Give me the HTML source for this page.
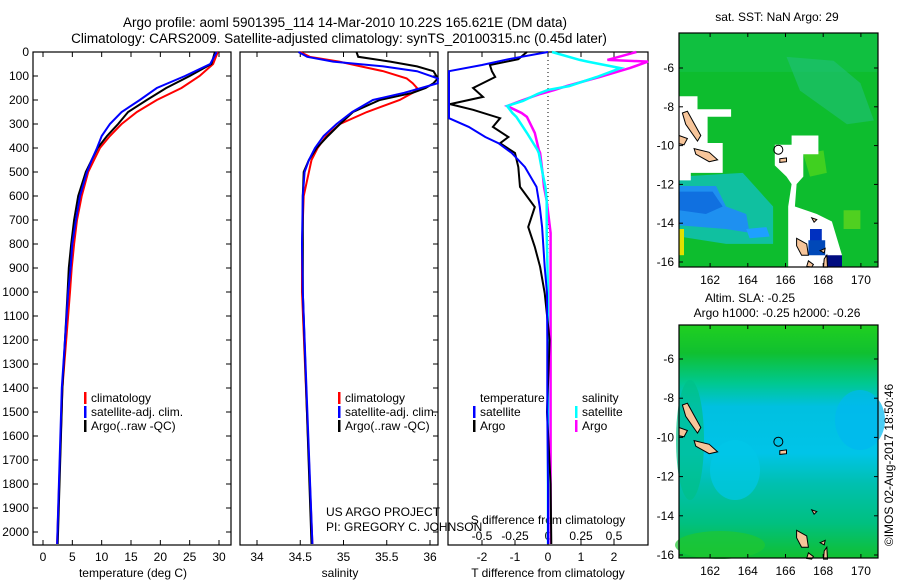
<!DOCTYPE html>
<html><head><meta charset="utf-8"><style>
html,body{margin:0;padding:0;background:#fff;overflow:hidden}
svg{display:block;font-family:"Liberation Sans",sans-serif}
</style></head><body>
<svg id="fig" width="900" height="580" viewBox="0 0 900 580" xmlns="http://www.w3.org/2000/svg">
<rect width="900" height="580" fill="#fff"/>
<g font-size="13.5" text-anchor="middle" fill="#000">
<text x="345" y="27">Argo profile: aoml 5901395_114 14-Mar-2010 10.22S 165.621E (DM data)</text>
<text x="339" y="43">Climatology: CARS2009. Satellite-adjusted climatology: synTS_20100315.nc (0.45d later)</text>
</g>
<g id="p1"></g>
<g id="p2"></g>
<g id="p3"></g>
<g id="m1"></g>
<g id="m2"></g>
<text x="0" y="0" font-size="12" text-anchor="middle" transform="translate(893,465) rotate(-90)">©IMOS 02-Aug-2017 18:50:46</text>
</svg>
<script>
// ---------- data ----------
const presT = [0,50,100,150,200,250,300,350,400,450,500,600,700,800,900,1000,1400,2050];
const tempClim = [29.8,29.0,26.7,23.6,19.4,16.0,13.4,11.4,9.7,8.7,7.7,6.6,5.8,5.3,4.9,4.6,3.3,2.4];
const tempSat  = [29.6,28.5,24.2,19.4,16.5,13.4,11.4,10.0,9.2,8.3,7.5,6.3,5.6,5.0,4.7,4.3,3.2,2.4];
const tempArgo = [29.3,28.7,25.0,21.0,17.7,14.5,12.8,10.9,9.3,8.3,7.3,6.0,5.3,4.8,4.4,4.2,3.3,2.5];
const presS = [0,20,40,60,80,110,130,150,170,200,250,300,350,400,450,500,600,800,1000,2050];
const salClim = [34.50,34.61,34.95,35.20,35.46,35.73,35.80,35.85,35.80,35.65,35.27,34.96,34.80,34.70,34.63,34.60,34.54,34.52,34.52,34.64];
const salSat  = [34.48,34.58,34.88,35.46,35.85,36.09,36.09,35.90,35.70,35.34,35.10,34.92,34.77,34.67,34.60,34.55,34.53,34.52,34.53,34.64];
const salArgo = [35.15,35.17,35.54,35.85,36.04,36.09,36.04,35.95,35.80,35.42,35.11,34.96,34.82,34.69,34.60,34.54,34.53,34.53,34.53,34.63];
const presDT = [0,30,54,80,104,150,187,217,241,276,312,354,380,421,479,562,646,729,812,895,1005,1200,1500,1800,2050];
const dTsat  = [0,-1.2,-2.0,-3.0,-3.0,-3.0,-3.0,-3.0,-3.0,-3.0,-2.4,-1.9,-1.5,-1.1,-0.7,-0.35,-0.25,-0.18,-0.14,-0.1,-0.03,-0.02,-0.02,0,0];
const dTargo = [-0.64,-0.9,-1.76,-1.7,-1.6,-2.27,-1.97,-2.97,-2.27,-1.45,-1.67,-1.2,-1.45,-1.0,-0.9,-0.85,-0.4,-0.6,-0.4,-0.24,-0.1,0.05,-0.03,0.08,0.1];
const presDS = [0,33,40,67,104,142,158,175,204,225,254,270,337,408,421,508,562,620,754,1000,1500,2050];
const dSsat  = [0.03,0.24,0.3,0.55,0.37,0.16,0.0,-0.08,-0.19,-0.31,-0.27,-0.24,-0.16,-0.08,-0.07,-0.04,-0.02,-0.01,-0.01,0,0,0];
const dSargo = [0.67,0.45,0.76,0.62,0.39,0.14,0.05,-0.06,-0.21,-0.31,-0.2,-0.16,-0.1,-0.07,-0.06,-0.04,-0.03,-0.01,0.02,0.02,0.02,0.02];
const presTicks = [0,100,200,300,400,500,600,700,800,900,1000,1100,1200,1300,1400,1500,1600,1700,1800,1900,2000];
const tTicks = [0,5,10,15,20,25,30];
const sTicks = [34,34.5,35,35.5,36];
const sTickLabels = ["34","34.5","35","35.5","36"];
const dTTicks = [-2,-1,0,1,2];
const dSTicks = [-0.5,-0.25,0,0.25,0.5];
const dSTickLabels = ["-0.5","-0.25","0","0.25","0.5"];
const lonTicks = [162,164,166,168,170];
const latTicks = [-6,-8,-10,-12,-14,-16];

// ---------- helpers ----------
const NS="http://www.w3.org/2000/svg";
function mk(tag,attrs,parent){const e=document.createElementNS(NS,tag);for(const k in attrs)e.setAttribute(k,attrs[k]);parent.appendChild(e);return e;}
const yP = p => 52 + 0.24*p;
const PT = 52, PB = 545;
function frame(g,x0,x1){
  const r=mk('rect',{x:x0,y:PT,width:x1-x0,height:PB-PT,fill:'none',stroke:'#000','stroke-width':1.2},g);
  
  
}
function line(g,xs,ps,xf,color,name,w){
  const d=xs.map((v,i)=>(i?'L':'M')+xf(v).toFixed(1)+','+yP(ps[i]).toFixed(1)).join('');
  const e=mk('path',{d:d,fill:'none',stroke:color,'stroke-width':w||2,'stroke-linejoin':'miter'},g);
  
  
}
function txt(g,x,y,s,anchor,size,name){
  const e=mk('text',{x:x,y:y,'text-anchor':anchor||'middle','font-size':size||12},g);
  e.textContent=s;
  
  
  return e;
}
function xticks(g,vals,labels,xf,name){
  vals.forEach((v,i)=>{
    const x=xf(v);
    mk('line',{x1:x,x2:x,y1:PB,y2:PB-5,stroke:'#000'},g);
    mk('line',{x1:x,x2:x,y1:PT,y2:PT+5,stroke:'#000'},g);
    txt(g,x,561,labels[i],'middle',12,name);
  });
}
function rightYTicks(g,x){presTicks.forEach(p=>mk('line',{x1:x-5,x2:x,y1:yP(p),y2:yP(p),stroke:'#000'},g));}
function legend(g,x,y,items){
  items.forEach((it,i)=>{
    const yy=y+i*14;
    if(it[0]) mk('rect',{x:x,y:yy-10,width:2.5,height:12,fill:it[0]},g);
    txt(g,x+7,yy,it[1],'start',12,'legend-entry');
  });
}

// ---------- panel 1: temperature ----------
const g1=document.getElementById('p1');
const xT = t => 43 + 5.867*t;
frame(g1,33,231);
presTicks.forEach(p=>{
  mk('line',{x1:33,x2:38,y1:yP(p),y2:yP(p),stroke:'#000'},g1);
  txt(g1,29,yP(p)+4,String(p),'end',12,'y-tick-label');
});
rightYTicks(g1,231);
xticks(g1,tTicks,tTicks.map(String),xT,'x-tick-label');
txt(g1,133,577,'temperature (deg C)','middle',12,'x-axis-title');
line(g1,tempClim,presT,xT,'#f00','climatology-temperature-line');
line(g1,tempArgo,presT,xT,'#000','argo-temperature-line');
line(g1,tempSat,presT,xT,'#00f','satellite-temperature-line');
legend(g1,84,402,[['#f00','climatology'],['#00f','satellite-adj. clim.'],['#000','Argo(..raw -QC)']]);

// ---------- panel 2: salinity ----------
const g2=document.getElementById('p2');
const xS = s => 257 + 86.5*(s-34);
frame(g2,240,438);
rightYTicks(g2,438);
xticks(g2,sTicks,sTickLabels,xS,'x-tick-label');
txt(g2,340,577,'salinity','middle',12,'x-axis-title');
line(g2,salClim,presS,xS,'#f00','climatology-salinity-line');
line(g2,salArgo,presS,xS,'#000','argo-salinity-line');
line(g2,salSat,presS,xS,'#00f','satellite-salinity-line');
legend(g2,338,402,[['#f00','climatology'],['#00f','satellite-adj. clim.'],['#000','Argo(..raw -QC)']]);
txt(g2,326,516,'US ARGO PROJECT','start',12,'project-credit');
txt(g2,326,531,'PI: GREGORY C. JOHNSON','start',12,'pi-credit');

// ---------- panel 3: differences ----------
const g3=document.getElementById('p3');
const xDT = d => Math.max(448, Math.min(648, 548 + 33*d));
const xDS = d => Math.max(448, Math.min(648, 548 + 132*d));
frame(g3,448,648);
mk('line',{x1:548,x2:548,y1:PT,y2:PB,stroke:'#000','stroke-dasharray':'1,3'},g3);
xticks(g3,dTTicks,dTTicks.map(String),xDT,'t-diff-tick-label');
dSTicks.forEach((v,i)=>txt(g3,xDS(v),540,dSTickLabels[i],'middle',12,'s-diff-tick-label'));
txt(g3,548,577,'T difference from climatology','middle',12,'t-diff-axis-title');
txt(g3,548,524,'S difference from climatology','middle',12,'s-diff-axis-title');
line(g3,dSargo,presDS,xDS,'#f0f','argo-salinity-diff-line',2.5);
line(g3,dSsat,presDS,xDS,'#0ff','satellite-salinity-diff-line',2.5);
line(g3,dTargo,presDT,xDT,'#000','argo-temperature-diff-line');
line(g3,dTsat,presDT,xDT,'#00f','satellite-temperature-diff-line');
legend(g3,473,402,[[null,'temperature'],['#00f','satellite'],['#000','Argo']]);
legend(g3,575,402,[[null,'salinity'],['#0ff','satellite'],['#f0f','Argo']]);

// ---------- maps ----------
const MX0=679, MX1=878;
const lonX = lon => MX0 + (lon-160.35)*18.85;
function mapAxes(g,top,bot,latY,lblY){
  mk('rect',{x:MX0,y:top,width:MX1-MX0,height:bot-top,fill:'none',stroke:'#000','stroke-width':1.2},g);
  lonTicks.forEach(l=>{const x=lonX(l);
    mk('line',{x1:x,x2:x,y1:bot,y2:bot-4,stroke:'#000'},g);
    mk('line',{x1:x,x2:x,y1:top,y2:top+4,stroke:'#000'},g);
    txt(g,x,lblY,String(l),'middle',12,'lon-tick-label');});
  latTicks.forEach(l=>{const y=latY(l);
    mk('line',{x1:MX0,x2:MX0+4,y1:y,y2:y,stroke:'#000'},g);
    mk('line',{x1:MX1-4,x2:MX1,y1:y,y2:y,stroke:'#000'},g);
    txt(g,674,y+4,String(l),'end',12,'lat-tick-label');});
}
function zp(pts,yoff,ybase){return pts.map(p=>(MX0+(p[0]-60)*0.336).toFixed(1)+','+(ybase+(p[1]-yoff)*0.374).toFixed(1)).join(' ');}
function islands(g,yoff,ybase){
  const isl=[[[70,310],[85,305],[125,370],[115,385],[80,340]],[[60,370],[85,378],[75,395],[60,392]],[[105,405],[150,415],[175,435],[150,440],[110,420]],
   [[360,432],[380,430],[380,440],[360,442]],[[410,645],[440,660],[445,690],[425,690],[410,665]],[[445,705],[460,715],[455,722],[440,720]],
   [[480,678],[495,672],[492,684]],[[492,700],[500,690],[502,722],[490,722]],[[455,590],[470,595],[462,602]]];
  isl.forEach(pp=>{const e=mk('polygon',{points:zp(pp,yoff,ybase),fill:'#f7c59a',stroke:'#000','stroke-width':1},g);
    
    });
  const c=mk('circle',{cx:lonX(165.62),cy:ybase+(408-yoff)*0.374,r:4.5,fill:'none',stroke:'#000','stroke-width':1},g);
  
  
}
// map 1
const m1=document.getElementById('m1');
const lat1 = l => 262 - (l+16)*19.4;
txt(m1,777,21,'sat. SST: NaN Argo: 29','middle',12,'sst-map-title');
mk('rect',{x:MX0,y:33,width:MX1-MX0,height:234,fill:'#0dbd2e'},m1);
mk('polygon',{points:zp([[60,96],[652,96],[652,200],[60,200]],96,33),fill:'#10c040'},m1);
mk('polygon',{points:zp([[380,160],[520,170],[600,230],[640,330],[560,340],[420,250]],96,33),fill:'#20c07a',opacity:0.6},m1);
mk('polygon',{points:zp([[60,480],[250,470],[340,560],[340,660],[200,660],[60,640]],96,33),fill:'#10c0a0'},m1);
mk('polygon',{points:zp([[60,505],[170,505],[200,560],[260,580],[270,630],[200,620],[60,610]],96,33),fill:'#1e90f0'},m1);
mk('polygon',{points:zp([[60,520],[160,520],[190,560],[140,580],[60,570]],96,33),fill:'#1070e0'},m1);
mk('polygon',{points:zp([[260,620],[320,615],[330,640],[270,645]],96,33),fill:'#1ea0ff'},m1);
mk('polygon',{points:zp([[60,620],[75,620],[75,690],[60,690]],96,33),fill:'#e0e000'},m1);
mk('polygon',{points:zp([[430,420],[490,410],[500,470],[450,480]],96,33),fill:'#40d020'},m1);
mk('polygon',{points:zp([[550,570],[600,570],[600,620],[550,620]],96,33),fill:'#50d020'},m1);
const wh=[[[60,265],[115,265],[115,300],[215,300],[215,320],[145,320],[145,390],[190,390],[190,470],[95,470],[95,490],[60,490]],
  [[345,395],[395,395],[395,370],[475,370],[475,420],[430,420],[430,480],[410,500],[405,560],[470,580],[515,600],[545,690],[545,722],[385,722],[385,560],[395,500],[380,480],[345,450]]];
wh.forEach(p=>mk('polygon',{points:zp(p,96,33),fill:'#fff'},m1));
mk('polygon',{points:zp([[450,620],[485,620],[485,655],[450,655]],96,33),fill:'#0030c0'},m1);
mk('polygon',{points:zp([[445,650],[495,650],[495,690],[445,690]],96,33),fill:'#0048b8'},m1);
mk('polygon',{points:zp([[495,690],[545,690],[545,722],[495,722]],96,33),fill:'#000c80'},m1);
islands(m1,96,33);
mapAxes(m1,33,267,lat1,284);
// map 2
const m2=document.getElementById('m2');
const lat2 = l => 555 - (l+16)*19.6;
txt(m2,750,302,'Altim. SLA: -0.25','middle',12,'sla-map-title');
txt(m2,777,317,'Argo h1000: -0.25 h2000: -0.26','middle',12,'sla-map-subtitle');
const defs=mk('defs',{},m2);
const lg=mk('linearGradient',{id:'slag',x1:0,y1:0,x2:0,y2:1},defs);
[[0,'#20d020'],[0.12,'#10c030'],[0.25,'#00c890'],[0.35,'#00c0e0'],[0.55,'#00c4e8'],[0.68,'#00c0b0'],[0.85,'#00c080'],[1,'#10c030']].forEach(s=>mk('stop',{offset:s[0],'stop-color':s[1]},lg));
mk('rect',{x:MX0,y:325,width:MX1-MX0,height:233,fill:'url(#slag)'},m2);
mk('ellipse',{cx:735,cy:470,rx:25,ry:30,fill:'#00c8e8',opacity:0.7},m2);
mk('ellipse',{cx:690,cy:440,rx:14,ry:60,fill:'#00c088',opacity:0.7},m2);
mk('ellipse',{cx:860,cy:420,rx:25,ry:30,fill:'#00b8f0',opacity:0.7},m2);
mk('ellipse',{cx:720,cy:545,rx:45,ry:14,fill:'#20c830',opacity:0.7},m2);
islands(m2,96,325);
mapAxes(m2,325,558,lat2,575);
</script>
</body></html>
